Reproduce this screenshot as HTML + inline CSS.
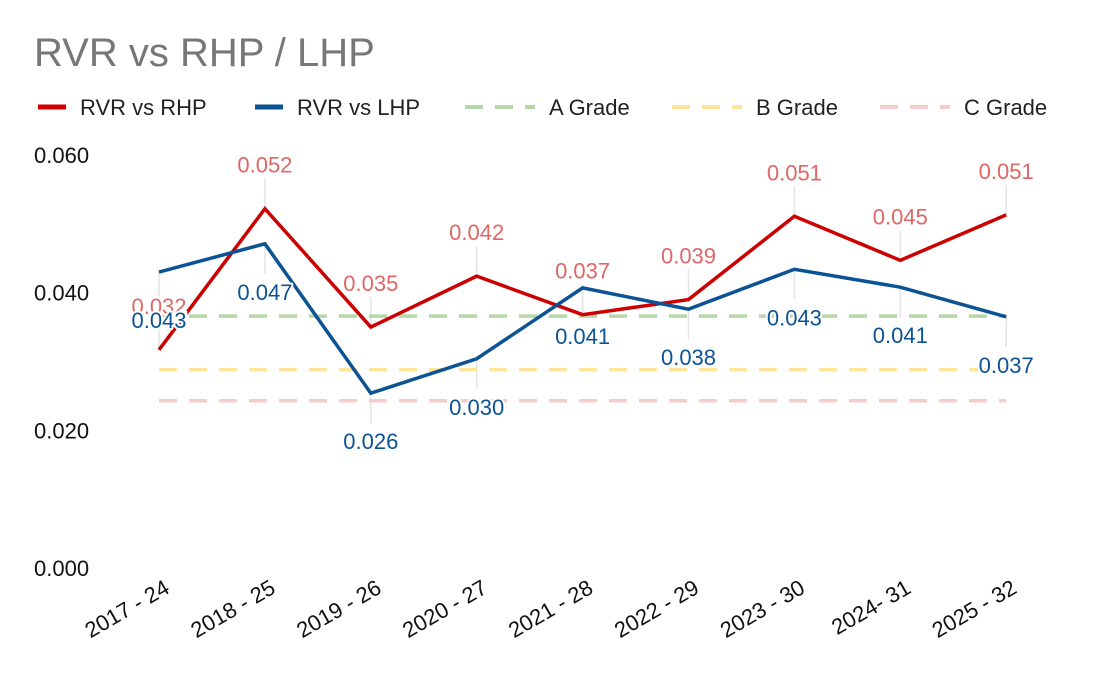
<!DOCTYPE html>
<html><head><meta charset="utf-8"><style>
body{margin:0;background:#fff;width:1094px;height:675px;overflow:hidden}
svg{font-family:"Liberation Sans",sans-serif}
.lbl{paint-order:stroke;stroke:#fff;stroke-width:4px;stroke-linejoin:round}
</style></head><body>
<svg id="chart" width="1094" height="675">
<text x="34" y="66" font-size="40" fill="#777">RVR vs RHP / LHP</text>
<g id="legend"></g>
<g id="yaxis"></g>
<g id="xaxis"></g>
<g id="plot"></g>
</svg>
<script>
const categories=["2017 - 24","2018 - 25","2019 - 26","2020 - 27","2021 - 28","2022 - 29","2023 - 30","2024- 31","2025 - 32"];
const rhp=[0.0317,0.0522,0.035,0.0424,0.0368,0.039,0.0511,0.0447,0.0513];
const lhp=[0.043,0.0471,0.0254,0.0304,0.0407,0.0376,0.0434,0.0408,0.0365];
const rhpLabels=["0.032","0.052","0.035","0.042","0.037","0.039","0.051","0.045","0.051"];
const lhpLabels=["0.043","0.047","0.026","0.030","0.041","0.038","0.043","0.041","0.037"];
const grades=[0.0366,0.0288,0.0243];
const yTicks=[0,0.02,0.04,0.06];
const yTickLabels=["0.000","0.020","0.040","0.060"];
const NS="http://www.w3.org/2000/svg";
const x=i=>159+i*105.9;
const y=v=>568-v*6883;
function mk(tag,attrs,parent,text){const e=document.createElementNS(NS,tag);for(const k in attrs)e.setAttribute(k,attrs[k]);if(text!==undefined)e.textContent=text;parent.appendChild(e);return e;}
const plot=document.getElementById('plot'),ya=document.getElementById('yaxis'),xa=document.getElementById('xaxis'),lg=document.getElementById('legend');
yTicks.forEach((t,i)=>{const e=mk('text',{x:34,y:y(t)+8,'font-size':22,fill:'#111'},ya,yTickLabels[i]);

});
categories.forEach((c,i)=>{const e=mk('text',{x:0,y:0,'font-size':22,fill:'#111','text-anchor':'end',transform:`translate(${x(i)+12},592) rotate(-30)`},xa,c);

});
categories.forEach((c,i)=>{
const a=mk('line',{x1:x(i),x2:x(i),y1:y(rhp[i]),y2:y(rhp[i])-30,stroke:'#e4e4e4','stroke-width':1.5},plot);


const b=mk('line',{x1:x(i),x2:x(i),y1:y(lhp[i]),y2:y(lhp[i])+30,stroke:'#e4e4e4','stroke-width':1.5},plot);

});
const gcol=['#b6d7a8','#ffe599','#f4cccc'],gname=['a-grade-line','b-grade-line','c-grade-line'];
grades.forEach((g,i)=>{const e=mk('line',{x1:x(0),x2:x(8),y1:y(g),y2:y(g),stroke:gcol[i],'stroke-width':3.5,'stroke-dasharray':'18 12'},plot);

});
function line(vals,col,name){const e=mk('polyline',{points:vals.map((v,i)=>x(i)+','+y(v)).join(' '),fill:'none',stroke:col,'stroke-width':3.5,'stroke-linejoin':'miter'},plot);

}
line(rhp,'#cc0000','rhp-line');
line(lhp,'#0b5394','lhp-line');
rhp.forEach((v,i)=>{const e=mk('text',{class:'lbl',x:x(i),y:y(v)-36,'font-size':22,fill:'#e06666','text-anchor':'middle'},plot,rhpLabels[i]);

});
lhp.forEach((v,i)=>{const e=mk('text',{class:'lbl',x:x(i),y:y(v)+56,'font-size':22,fill:'#0b5394','text-anchor':'middle'},plot,lhpLabels[i]);

});
const leg=[['RVR vs RHP','#cc0000',false,38],['RVR vs LHP','#0b5394',false,255],['A Grade','#b6d7a8',true,465],['B Grade','#ffe599',true,672],['C Grade','#f4cccc',true,880]];
leg.forEach(l=>{const g=mk('g',{},lg);


mk('line',{x1:l[3],x2:l[3]+(l[2]?70:28),y1:107,y2:107,stroke:l[1],'stroke-width':l[2]?4:5,'stroke-dasharray':l[2]?'18 12':'none'},g);
mk('text',{x:l[3]+(l[2]?84:42),y:115,'font-size':22,fill:'#222'},g,l[0]);});
</script>
</body></html>
